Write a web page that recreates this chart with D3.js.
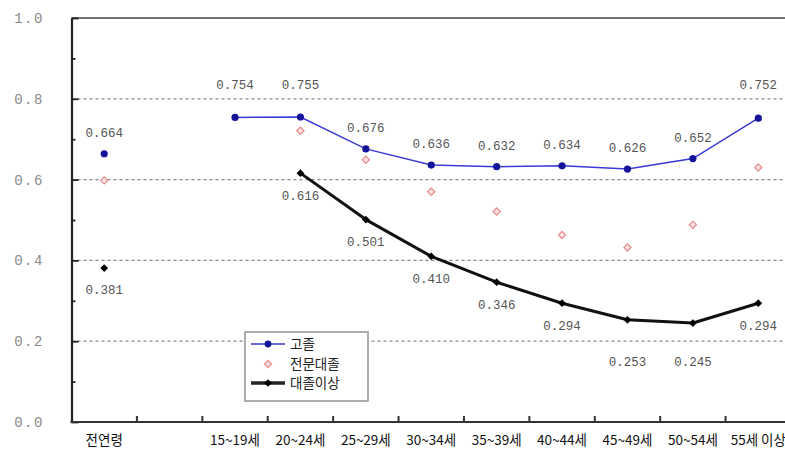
<!DOCTYPE html>
<html>
<head>
<meta charset="utf-8">
<script src="https://cdn.jsdelivr.net/npm/d3@7"></script>
<style>
  html, body { margin: 0; padding: 0; background: #fff; }
  svg { display: block; }
</style>
</head>
<body>
<svg id="chart" width="785" height="457"></svg>
<script>
// Age groups; the blank slot separates the all-ages figure from the age bands
const categories = ["전연령", "", "15~19세", "20~24세", "25~29세", "30~34세", "35~39세", "40~44세", "45~49세", "50~54세", "55세 이상"];
const seriesNames = ["고졸", "전문대졸", "대졸이상"];
const highSchool = [0.664, null, 0.754, 0.755, 0.676, 0.636, 0.632, 0.634, 0.626, 0.652, 0.752];
const juniorCollege = [0.598, null, null, 0.721, 0.649, 0.570, 0.521, 0.463, 0.432, 0.488, 0.630];
const university = [0.381, null, null, 0.616, 0.501, 0.410, 0.346, 0.294, 0.253, 0.245, 0.294];
const yTicks = [0, 0.2, 0.4, 0.6, 0.8, 1.0];
const yTickLabels = ["0.0", "0.2", "0.4", "0.6", "0.8", "1.0"];
const gridValues = [0.2, 0.4, 0.6, 0.8];

const svg = d3.select("#chart");
const plotLeft = 71.5, plotRight = 791, plotTop = 18, plotBottom = 422;

const x = d3.scaleBand().domain(d3.range(categories.length)).range([plotLeft, plotRight]).padding(0);
const y = d3.scaleLinear().domain([0, 1]).range([plotBottom, plotTop]);
const cx = i => x(i) + x.bandwidth() / 2;

// dashed gridlines
svg.append("g").selectAll("line").data(gridValues).join("line")
  .attr("x1", plotLeft).attr("x2", plotRight)
  .attr("y1", d => y(d)).attr("y2", d => y(d))
  .attr("stroke", "#8a8a8a").attr("stroke-width", 1.3)
  .attr("stroke-dasharray", "3,3");

// top border
svg.append("line").attr("x1", plotLeft).attr("x2", plotRight).attr("y1", plotTop).attr("y2", plotTop)
  .attr("stroke", "#444").attr("stroke-width", 1.6);

// y axis with major and minor ticks pointing inward
const yAxis = d3.axisRight(y).tickValues(d3.range(0, 1.0001, 0.1)).tickSize(0).tickFormat("");
const yg = svg.append("g").attr("transform", `translate(${plotLeft},0)`).call(yAxis);
yg.select(".domain").attr("stroke", "#222").attr("stroke-width", 2.2);
yg.selectAll(".tick line")
  .attr("x2", (d, i) => (i % 2 === 0 ? 7 : 4))
  .attr("stroke", "#222").attr("stroke-width", 1.8);

// y labels
svg.append("g").selectAll("text").data(yTicks).join("text")
  .attr("x", 29).attr("y", d => y(d)).attr("dy", "0.35em")
  .attr("text-anchor", "middle")
  .attr("font-family", "Liberation Mono, DejaVu Sans Mono, monospace")
  .attr("font-size", 14).attr("letter-spacing", 1.5)
  .attr("fill", "#8a8a8a")
  .text((d, i) => yTickLabels[i]);

// x axis with ticks at band boundaries
const xg = svg.append("g").attr("transform", `translate(0,${plotBottom})`);
xg.append("line").attr("x1", plotLeft - 1).attr("x2", plotRight).attr("stroke", "#333").attr("stroke-width", 2.2);
xg.selectAll("line.tk").data(d3.range(1, categories.length)).join("line")
  .attr("class", "tk")
  .attr("x1", i => x(i)).attr("x2", i => x(i))
  .attr("y1", -6).attr("y2", 0)
  .attr("stroke", "#333").attr("stroke-width", 2);

// x labels
svg.append("g").selectAll("text").data(categories).join("text")
  .attr("x", (d, i) => cx(i)).attr("y", 445)
  .attr("text-anchor", "middle")
  .attr("font-family", "Noto Sans CJK KR, sans-serif")
  .attr("font-size", 13.5).attr("fill", "#111")
  .text(d => d);

const line = d3.line().defined(d => d.v != null).x(d => cx(d.i)).y(d => y(d.v));
const pts = arr => arr.map((v, i) => ({ v, i }));

// 대졸이상 line
svg.append("path").datum(pts(university)).attr("d", line)
  .attr("fill", "none").attr("stroke", "#111").attr("stroke-width", 3).attr("stroke-linejoin", "round");
// 고졸 line
svg.append("path").datum(pts(highSchool)).attr("d", line)
  .attr("fill", "none").attr("stroke", "#3a3ad6").attr("stroke-width", 1.5);

// square markers turned 45° into diamonds
const square = d3.symbol().type(d3.symbolSquare);
const pinkMarker = square.size(26)();
const blackMarker = square.size(30)();

// 전문대졸 markers (hollow)
svg.append("g").selectAll("path").data(pts(juniorCollege).filter(d => d.v != null)).join("path")
  .attr("transform", d => `translate(${cx(d.i)},${y(d.v)}) rotate(45)`)
  .attr("d", pinkMarker)
  .attr("fill", "#fbe3e3").attr("stroke", "#e88a8a").attr("stroke-width", 1.2);

// 고졸 markers
svg.append("g").selectAll("circle").data(pts(highSchool).filter(d => d.v != null)).join("circle")
  .attr("cx", d => cx(d.i)).attr("cy", d => y(d.v)).attr("r", 3.6)
  .attr("fill", "#14149a");

// 대졸이상 markers
svg.append("g").selectAll("path").data(pts(university).filter(d => d.v != null)).join("path")
  .attr("transform", d => `translate(${cx(d.i)},${y(d.v)}) rotate(45)`)
  .attr("d", blackMarker)
  .attr("fill", "#000");

// value labels: above for 고졸, below for 대졸이상, stepping past a gridline they would sit on
const gridY = gridValues.map(y);
function labelY(py, above) {
  let ly = above ? py - 21 : py + 22;
  for (const g of gridY) {
    if (Math.abs(ly - g) < 8) ly = above ? g - 14 : g + 20;
  }
  return ly;
}
const labelFont = "Liberation Mono, DejaVu Sans Mono, monospace";
function drawLabels(arr, above) {
  svg.append("g").selectAll("text").data(pts(arr).filter(d => d.v != null)).join("text")
    .attr("x", d => cx(d.i)).attr("y", d => labelY(y(d.v), above)).attr("dy", "0.35em")
    .attr("text-anchor", "middle")
    .attr("font-family", labelFont).attr("font-size", 12.5)
    .attr("fill", "#555")
    .text(d => d3.format(".3f")(d.v));
}
drawLabels(highSchool, true);
drawLabels(university, false);

// legend
const lg = svg.append("g").attr("transform", "translate(245,332)");
lg.append("rect").attr("width", 123).attr("height", 69)
  .attr("fill", "#fff").attr("stroke", "#9a9a9a").attr("stroke-width", 1.6);
const rows = [12, 32, 51];
// 고졸
lg.append("line").attr("x1", 6).attr("x2", 40).attr("y1", rows[0]).attr("y2", rows[0])
  .attr("stroke", "#3a3ad6").attr("stroke-width", 1.5);
lg.append("circle").attr("cx", 23).attr("cy", rows[0]).attr("r", 3.4).attr("fill", "#14149a");
// 전문대졸
lg.append("path").attr("transform", `translate(23,${rows[1]}) rotate(45)`).attr("d", pinkMarker)
  .attr("fill", "#fbe3e3").attr("stroke", "#e88a8a").attr("stroke-width", 1.2);
// 대졸이상
lg.append("line").attr("x1", 6).attr("x2", 40).attr("y1", rows[2]).attr("y2", rows[2])
  .attr("stroke", "#222").attr("stroke-width", 3.5);
lg.append("path").attr("transform", `translate(23,${rows[2]}) rotate(45)`).attr("d", blackMarker).attr("fill", "#000");
lg.selectAll("text").data(seriesNames).join("text")
  .attr("x", 45).attr("y", (d, i) => rows[i]).attr("dy", "0.36em")
  .attr("font-family", "Noto Sans CJK KR, sans-serif").attr("font-size", 13.5)
  .attr("fill", "#222")
  .text(d => d);
</script>
</body>
</html>
